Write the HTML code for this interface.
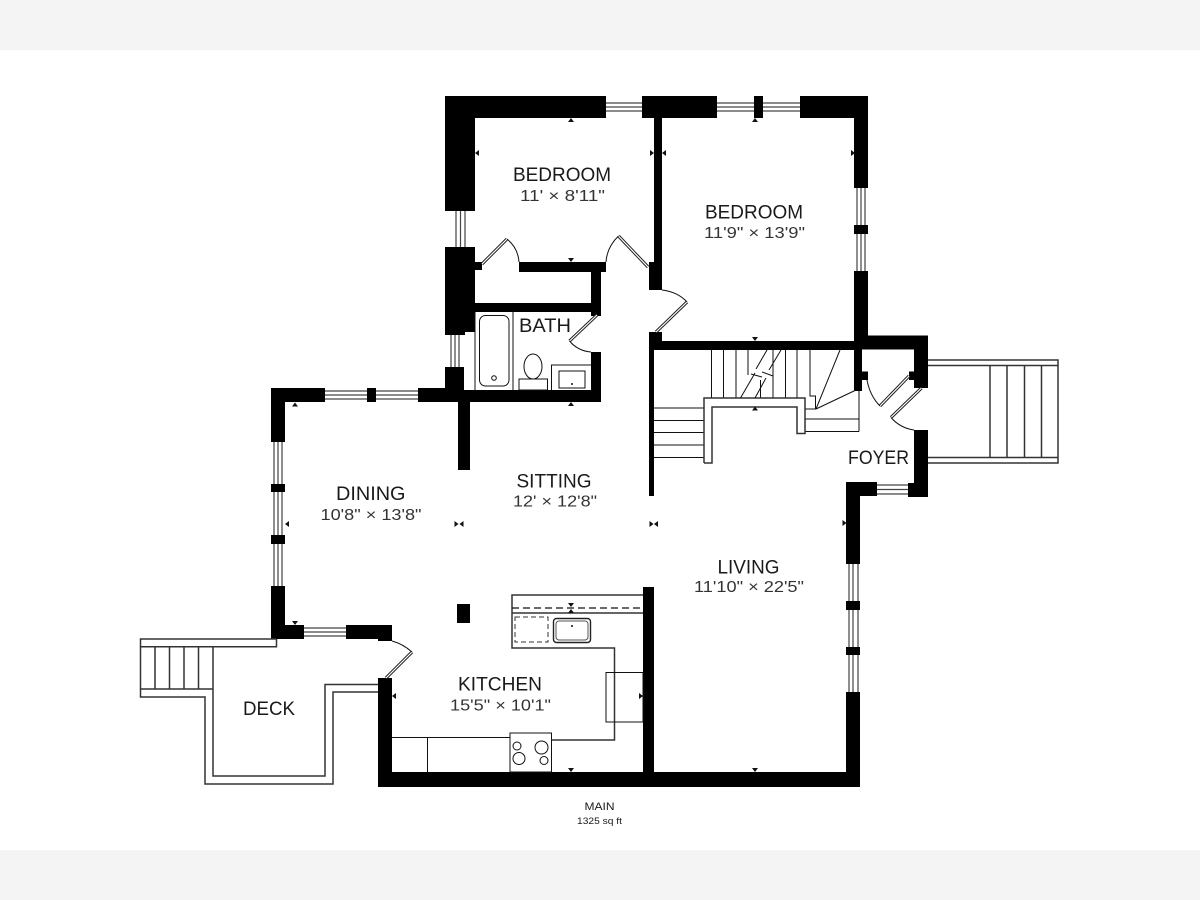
<!DOCTYPE html>
<html><head><meta charset="utf-8"><style>
html,body{margin:0;padding:0;background:#fff}
svg{display:block}
text{font-family:"Liberation Sans",sans-serif;fill:#1a1a1a}
.n{font-size:19.5px}
.d{font-size:16px;fill:#333}
.t{fill:none;stroke:#111;stroke-width:1}
.g{fill:none;stroke:#333;stroke-width:1.5}
.w{fill:none;stroke:#444;stroke-width:1.2}
.a{fill:#111}
</style></head><body>
<svg width="1200" height="900" viewBox="0 0 1200 900" xmlns="http://www.w3.org/2000/svg">
<rect width="1200" height="900" fill="#fff"/>
<rect width="1200" height="50" fill="#f4f4f4"/>
<rect y="850" width="1200" height="50" fill="#f4f4f4"/>

<path class="w" d="M605 103H642M605 107H642M605 111H642M717 103H754M717 107H754M717 111H754M763 103H800M763 107H800M763 111H800M456 211V247M460.5 211V247M465 211V247M451 335V367M455 335V367M459 335V367M857 188V271M861 188V271M865 188V271M325 391H418M325 395H418M325 399H418M274 442V586M278 442V586M282 442V586M304 628H346M304 632H346M304 636H346M849 564V692M853 564V692M858 564V692M877 485H908M877 489.5H908M877 494H908"/>

<g fill="#000">
<rect x="445" y="96" width="161" height="22"/>
<rect x="642" y="96" width="75" height="22"/>
<rect x="754" y="96" width="9" height="22"/>
<rect x="800" y="96" width="68" height="22"/>
<rect x="445" y="96" width="30" height="115"/>
<rect x="445" y="247" width="30" height="85"/>
<rect x="445" y="330" width="20" height="5"/>
<rect x="445" y="367" width="19" height="30"/>
<rect x="418" y="390" width="183" height="12"/>
<rect x="854" y="96" width="14" height="92"/>
<rect x="854" y="225" width="14" height="9"/>
<rect x="854" y="271" width="14" height="70"/>
<rect x="854" y="335" width="8" height="56"/>
<rect x="854" y="335.5" width="74" height="14"/>
<rect x="862" y="371.5" width="6" height="8.5"/>
<rect x="914" y="335.5" width="14" height="52.5"/>
<rect x="909" y="371.5" width="6" height="8.5"/>
<rect x="914" y="430" width="14" height="67"/>
<rect x="908" y="483" width="20" height="14"/>
<rect x="846" y="482" width="31" height="14"/>
<rect x="846" y="482" width="14" height="82"/>
<rect x="846" y="601" width="14" height="9"/>
<rect x="846" y="647" width="14" height="8"/>
<rect x="846" y="692" width="14" height="95"/>
<rect x="378" y="772" width="482" height="15"/>
<rect x="378" y="678" width="14" height="109"/>
<rect x="643" y="587" width="11" height="186"/>
<rect x="271" y="388" width="54" height="14"/>
<rect x="367" y="388" width="9" height="14"/>
<rect x="418" y="388" width="40" height="14"/>
<rect x="271" y="388" width="14" height="54"/>
<rect x="271" y="484" width="14" height="8"/>
<rect x="271" y="535" width="14" height="9"/>
<rect x="271" y="586" width="14" height="53"/>
<rect x="271" y="625" width="33" height="14"/>
<rect x="346" y="625" width="46" height="14"/>
<rect x="378" y="636" width="14" height="5"/>
<rect x="458" y="402" width="12" height="68"/>
<rect x="457" y="604" width="13" height="19"/>
<rect x="475" y="262" width="7" height="8"/>
<rect x="519" y="262" width="87" height="10"/>
<rect x="591" y="262" width="10" height="54"/>
<rect x="475" y="303" width="126" height="9"/>
<rect x="591" y="352" width="10" height="50"/>
<rect x="654" y="118" width="8" height="146"/>
<rect x="649" y="262" width="13" height="28"/>
<rect x="649" y="332" width="13" height="18"/>
<rect x="649" y="341" width="206" height="9"/>
<rect x="649" y="332" width="5" height="164"/>
</g>

<path fill="none" stroke="#222" stroke-width="3.2" d="M482 264L507 239M618.5 236L648 267M687 302L656 332M597 315L569.5 341M880 406L909 376M921.5 388L891 417.5M412 652L386 678"/>
<path fill="none" stroke="#fff" stroke-width="1.2" d="M482 264L507 239M618.5 236L648 267M687 302L656 332M597 315L569.5 341M880 406L909 376M921.5 388L891 417.5M412 652L386 678"/>
<path class="t" d="M507 239Q518 248 519 262M618.5 236Q607 247 606 262M662 290Q678 292 687 302M569.5 341Q578 351 591 352M867 380Q870 396 880 406M891 417.5Q900 428 914 430M392 641Q403 644 412 652"/>

<path class="g" stroke-width="1.3" d="M276.5 639H140.5V697H205V784H333V692H378M140.5 646.7H276.5V639M213 647V776H325V684.5H378M140.5 689H213M155 647V689M169.5 647V689M184 647V689M198.5 647V689"/>

<path class="g" d="M928 360H1058V463H928M928 365.5H1058M928 457.5H1058M990 365.5V457.5M1007 365.5V457.5M1024.5 365.5V457.5M1041.5 365.5V457.5"/>

<path class="t" d="M711.5 350V398M723.5 350V398M736 350V398M748 350V375M760.5 398V380M773 350V398M785.5 350V398M797 350V398M810 350V396H815.5V409H805M816 409L840 350M816 409L855 390.5M654 408H704M654 420.5H704M654 432.5H704M654 445H704M654 457.5H704M805 419H859M805 431.5H859M859 391V431.5"/>
<path class="g" d="M704 463V398H805V433.5H797V407H712V463H704"/>
<path class="t" d="M740.5 398L755 373M755 398L766 378M756 369L767 350M769 370L781 350M751 374L762 377M762 372L773 376"/>

<path class="t" d="M475 311V390M513 311V390M551.5 390V365H591"/>
<rect class="t" x="479.5" y="315.5" width="29.5" height="70.5" rx="6"/>
<circle class="t" cx="494" cy="378" r="2.3"/>
<ellipse class="t" cx="533" cy="366.5" rx="9" ry="12.500"/>
<rect class="t" x="519" y="379" width="28.5" height="11"/>
<rect class="t" x="559" y="371" width="26" height="17"/>
<circle class="a" cx="572" cy="384" r="1"/>

<path class="g" stroke-width="1.2" d="M643 595H512V648H614.5V740H551.5M512 613H643"/>
<path fill="none" stroke="#111" stroke-width="1.3" stroke-dasharray="7 4" d="M512 608H643"/>
<rect x="515" y="617" width="33" height="25" fill="none" stroke="#333" stroke-width="1" stroke-dasharray="5 3"/>
<rect x="553.5" y="618.5" width="37" height="24" rx="3" fill="none" stroke="#222" stroke-width="1.4"/>
<rect x="556" y="621" width="32" height="19" rx="3" fill="none" stroke="#555" stroke-width="1"/>
<circle class="a" cx="572" cy="626" r="1"/>
<rect class="t" x="606" y="672.5" width="37" height="49.5"/>
<rect class="t" x="510" y="733" width="41.5" height="39"/>
<path class="t" d="M392 737.5H510M427.5 737.5V772"/>
<circle class="t" cx="517" cy="746" r="4"/>
<circle class="t" cx="541.5" cy="747.5" r="6.500"/>
<circle class="t" cx="519" cy="758.5" r="6"/>
<circle class="t" cx="544" cy="760.500" r="4"/>

<g class="a">
<path d="M571 118l3 4h-6zM755 118l3 4h-6zM571 402l3 4h-6zM755 406.500l3 4h-6zM295 402.500l3 4h-6zM571 609l3 4h-6z"/>
<path d="M571 262l3-4h-6zM755 341l3-4h-6zM295 625l3-4h-6zM571 772l3-4h-6zM755 772l3-4h-6zM571 607l3-4h-6z"/>
<path d="M475 153l4 3v-6zM662 153l4 3v-6zM285 524l4 3v-6zM392 696l4 3v-6zM459.500 524l4 3v-6zM654 524l4 3v-6z"/>
<path d="M654 153l-4 3v-6zM855 153l-4 3v-6zM846.500 523l-4 3v-6zM643 696l-4 3v-6zM458.500 524l-4 3v-6zM653.500 524l-4 3v-6z"/>
</g>

<text class="n" x="513" y="181" textLength="98" lengthAdjust="spacingAndGlyphs">BEDROOM</text>
<text class="d" x="520" y="201" textLength="85" lengthAdjust="spacingAndGlyphs">11' × 8'11"</text>
<text class="n" x="705" y="218.5" textLength="98" lengthAdjust="spacingAndGlyphs">BEDROOM</text>
<text class="d" x="704" y="238" textLength="101" lengthAdjust="spacingAndGlyphs">11'9" × 13'9"</text>
<text class="n" x="519" y="332" textLength="52" lengthAdjust="spacingAndGlyphs">BATH</text>
<text class="n" x="848" y="464" textLength="61" lengthAdjust="spacingAndGlyphs">FOYER</text>
<text class="n" x="516.5" y="487.3" textLength="75" lengthAdjust="spacingAndGlyphs">SITTING</text>
<text class="d" x="513" y="506.5" textLength="84" lengthAdjust="spacingAndGlyphs">12' × 12'8"</text>
<text class="n" x="336" y="500" textLength="69.5" lengthAdjust="spacingAndGlyphs">DINING</text>
<text class="d" x="320.5" y="520" textLength="101" lengthAdjust="spacingAndGlyphs">10'8" × 13'8"</text>
<text class="n" x="717.5" y="573.3" textLength="62" lengthAdjust="spacingAndGlyphs">LIVING</text>
<text class="d" x="694" y="592" textLength="110" lengthAdjust="spacingAndGlyphs">11'10" × 22'5"</text>
<text class="n" x="458" y="690.5" textLength="84" lengthAdjust="spacingAndGlyphs">KITCHEN</text>
<text class="d" x="450" y="710.5" textLength="101" lengthAdjust="spacingAndGlyphs">15'5" × 10'1"</text>
<text class="n" x="243" y="715" textLength="52" lengthAdjust="spacingAndGlyphs">DECK</text>
<text x="584.5" y="810" font-size="11" textLength="30" lengthAdjust="spacingAndGlyphs">MAIN</text>
<text x="577" y="824" font-size="9.5" textLength="45" lengthAdjust="spacingAndGlyphs">1325 sq ft</text>
</svg>
</body></html>
